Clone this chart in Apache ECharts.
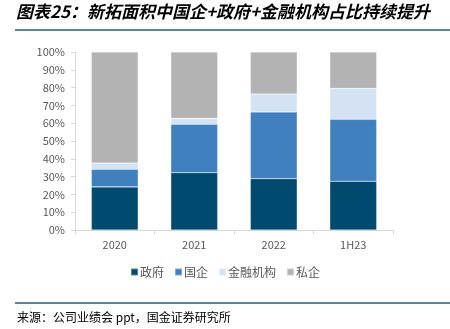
<!DOCTYPE html>
<html><head><meta charset="utf-8">
<style>html,body{margin:0;padding:0;background:#fff}#c{width:450px;height:329px}</style>
<script src="https://cdn.jsdelivr.net/npm/echarts@6/dist/echarts.min.js"></script>
</head><body><div id="c"></div>
<script>
const categories = ['2020', '2021', '2022', '1H23'];
const gov = [24.2, 32.2, 28.8, 27.4];
const soe = [9.9, 27.2, 37.5, 34.8];
const fin = [3.5, 3.3, 10.1, 17.4];
const priv = [62.4, 37.3, 23.6, 20.4];
const seriesNames = ['政府', '国企', '金融机构', '私企'];
const colors = ['#004A6F', '#4080BF', '#D3E3F3', '#B3B3B3'];
const yTicks = [0, 10, 20, 30, 40, 50, 60, 70, 80, 90, 100];

const chart = echarts.init(document.getElementById('c'));
const font = '"Noto Sans CJK SC", "Noto Sans", sans-serif';
const datas = [gov, soe, fin, priv];
chart.setOption({
  animation: false,
  textStyle: { fontFamily: font },
  grid: { left: 75, right: 57, top: 52, bottom: 99 },
  legend: {
    data: seriesNames, bottom: 46, left: 'center',
    itemWidth: 7, itemHeight: 7, itemGap: 10, icon: 'rect',
    textStyle: { fontSize: 12, color: '#595959', padding: [0, 0, 0, -3] }
  },
  xAxis: {
    type: 'category', data: categories,
    axisLine: { lineStyle: { color: '#D9D9D9' } },
    axisTick: { show: true, alignWithLabel: false, length: 4, lineStyle: { color: '#D9D9D9' } },
    axisLabel: { color: '#595959', fontSize: 11, margin: 9 }
  },
  yAxis: {
    type: 'value', min: 0, max: 100, interval: 10,
    axisLine: { show: true, lineStyle: { color: '#D9D9D9' } },
    axisTick: { show: true, length: 4, lineStyle: { color: '#D9D9D9' } },
    splitLine: { show: false },
    axisLabel: { color: '#595959', fontSize: 11, margin: 10, formatter: v => yTicks.includes(v) ? v + '%' : '' }
  },
  series: seriesNames.map((n, i) => ({
    name: n, type: 'bar', stack: 'a', data: datas[i], barWidth: '59%',
    itemStyle: { color: colors[i], borderColor: 'rgba(255,255,255,0.35)', borderWidth: 0.6 }
  })),
  graphic: [
    { type: 'text', left: 16, top: 3, style: { text: '图表25：新拓面积中国企+政府+金融机构占比持续提升', font: 'italic bold 17px ' + font, fill: '#000' } },
    { type: 'line', shape: { x1: 15, y1: 30, x2: 450, y2: 30 }, style: { stroke: '#1F5C8B', lineWidth: 1.5 } },
    { type: 'line', shape: { x1: 15, y1: 303, x2: 450, y2: 303 }, style: { stroke: '#1F5C8B', lineWidth: 1.5 } },
    { type: 'text', left: 17, top: 311, style: { text: '来源：公司业绩会 ppt，国金证券研究所', font: '12px ' + font, fill: '#000' } }
  ]
});
</script></body></html>
